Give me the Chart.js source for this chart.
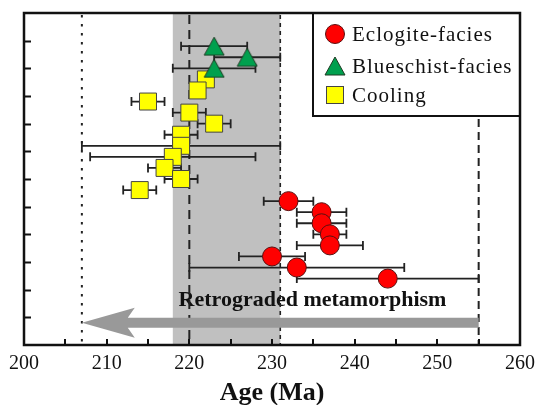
<!DOCTYPE html>
<html>
<head>
<meta charset="utf-8">
<script src="https://cdn.jsdelivr.net/npm/chart.js@4.4.1/dist/chart.umd.min.js"></script>
<style>
  html, body { margin: 0; padding: 0; background: #fff; }
</style>
</head>
<body>
<canvas id="myChart" width="542" height="405"></canvas>
<script>
// ages (Ma), 1-sigma errors and stacking position of each sample
const eclogiteAge = [232, 236, 236, 237, 237, 230, 233, 244];
const eclogiteErr = [3, 3, 3, 2, 4, 4, 13, 11];
const eclogiteY = [5.2, 4.8, 4.4, 4.0, 3.6, 3.2, 2.8, 2.4];

const blueschistAge = [223, 227, 223];
const blueschistErr = [4, 4, 5];
const blueschistY = [10.8, 10.4, 10.0];

const coolingAge = [222, 221, 215, 220, 223, 219, 219, 218, 217, 219, 214];
const coolingErr = [0, 0, 2, 2, 2, 2, 12, 10, 2, 2, 2];
const coolingY = [9.6, 9.2, 8.8, 8.4, 8.0, 7.6, 7.2, 6.8, 6.4, 6.0, 5.6];

const xTicks = [200, 210, 220, 230, 240, 250, 260];
const legendNames = ["Eclogite-facies", "Blueschist-facies", "Cooling"];

const bandRange = [218, 231];
const refLines = [207, 220, 231, 255];
const arrowFrom = 255, arrowTo = 207, arrowHeadEnd = 213.4, arrowY = 0.8;
const arrowLabel = "Retrograded metamorphism";
const labelAge = 234.9, labelY = 1.6;

const SERIF = '"Liberation Serif", "Times New Roman", serif';

function toPoints(ages, ys) {
  return ages.map((a, i) => ({ x: a, y: ys[i] }));
}

function triangleImg(w, h, fill, stroke) {
  const c = document.createElement("canvas");
  c.width = w + 2;
  c.height = h + 2;
  const g = c.getContext("2d");
  g.beginPath();
  g.moveTo(c.width / 2, 1);
  g.lineTo(w + 1, h + 1);
  g.lineTo(1, h + 1);
  g.closePath();
  g.fillStyle = fill;
  g.fill();
  g.strokeStyle = stroke;
  g.lineWidth = 1;
  g.stroke();
  return c;
}

const RED = "#ff0000", GREEN = "#00a04e", YELLOW = "#ffff00";
const tri = triangleImg(20, 18, GREEN, "#1d3a22");

const errorSets = [
  [eclogiteAge, eclogiteErr, eclogiteY],
  [blueschistAge, blueschistErr, blueschistY],
  [coolingAge, coolingErr, coolingY],
];

const decor = {
  id: "decor",
  beforeDatasetsDraw(chart) {
    const { ctx, chartArea: a, scales } = chart;
    const x = scales.x, y = scales.y;
    ctx.save();
    // grey age band
    const b0 = x.getPixelForValue(bandRange[0]);
    const b1 = x.getPixelForValue(bandRange[1]);
    ctx.fillStyle = "#c0c0c0";
    ctx.fillRect(b0, a.top, b1 - b0, a.bottom - a.top);

    // label above the arrow
    ctx.fillStyle = "#111";
    ctx.font = "bold 22px " + SERIF;
    ctx.textAlign = "center";
    ctx.textBaseline = "middle";
    ctx.fillText(arrowLabel, x.getPixelForValue(labelAge), y.getPixelForValue(labelY));

    // reference lines
    const dashes = [[2.5, 6.5], [9, 6], [4, 4], [8, 5]];
    const widths = [2, 2, 1.6, 2];
    refLines.forEach((v, i) => {
      const px = x.getPixelForValue(v);
      ctx.beginPath();
      ctx.setLineDash(dashes[i]);
      ctx.lineWidth = widths[i];
      ctx.strokeStyle = "#222";
      ctx.moveTo(px, a.top + 2);
      ctx.lineTo(px, a.bottom);
      ctx.stroke();
    });
    ctx.setLineDash([]);

    // arrow
    const xs = x.getPixelForValue(arrowFrom);
    const xt = x.getPixelForValue(arrowTo);
    const xh = x.getPixelForValue(arrowHeadEnd);
    const yc = y.getPixelForValue(arrowY);
    ctx.fillStyle = "#999999";
    ctx.beginPath();
    ctx.moveTo(xt, yc);
    ctx.lineTo(xh, yc - 15);
    ctx.lineTo(xh - 7, yc - 5);
    ctx.lineTo(xs, yc - 5);
    ctx.lineTo(xs, yc + 5);
    ctx.lineTo(xh - 7, yc + 5);
    ctx.lineTo(xh, yc + 15);
    ctx.closePath();
    ctx.fill();

    // error bars
    ctx.strokeStyle = "#222";
    ctx.lineWidth = 1.8;
    errorSets.forEach(([ages, errs, ys]) => {
      ages.forEach((age, i) => {
        if (!errs[i]) return;
        const l = x.getPixelForValue(age - errs[i]);
        const r = x.getPixelForValue(age + errs[i]);
        const py = y.getPixelForValue(ys[i]);
        ctx.beginPath();
        ctx.moveTo(l, py);
        ctx.lineTo(r, py);
        ctx.moveTo(l, py - 4.5);
        ctx.lineTo(l, py + 4.5);
        ctx.moveTo(r, py - 4.5);
        ctx.lineTo(r, py + 4.5);
        ctx.stroke();
      });
    });
    ctx.restore();
  },
  afterDraw(chart) {
    const { ctx, chartArea: a, scales } = chart;
    const x = scales.x, y = scales.y;
    ctx.save();
    // inward ticks
    ctx.strokeStyle = "#111";
    ctx.lineWidth = 2;
    ctx.beginPath();
    y.ticks.forEach((t) => {
      if (t.value <= 0 || t.value >= 12) return;
      const py = Math.round(y.getPixelForValue(t.value)) + 0.5;
      ctx.moveTo(a.left, py);
      ctx.lineTo(a.left + 7, py);
    });
    x.ticks.forEach((t) => {
      if (t.value <= 200 || t.value >= 260) return;
      const px = Math.round(x.getPixelForValue(t.value));
      ctx.moveTo(px, a.bottom);
      ctx.lineTo(px, a.bottom - 6);
    });
    ctx.stroke();

    // legend box
    const lx = a.right - 207, ly = a.top, lw = 207, lh = 103;
    ctx.fillStyle = "#fff";
    ctx.fillRect(lx, ly, lw, lh);
    ctx.lineWidth = 2;
    ctx.strokeStyle = "#111";
    ctx.strokeRect(lx, ly, lw, lh);

    const cx = lx + 22;
    const rows = [ly + 21, ly + 53, ly + 82];
    // circle
    ctx.beginPath();
    ctx.arc(cx, rows[0], 9.5, 0, Math.PI * 2);
    ctx.fillStyle = RED;
    ctx.fill();
    ctx.lineWidth = 1;
    ctx.strokeStyle = "#5a1010";
    ctx.stroke();
    // triangle
    ctx.drawImage(tri, cx - tri.width / 2, rows[1] - tri.height / 2);
    // square
    ctx.fillStyle = YELLOW;
    ctx.fillRect(cx - 8.5, rows[2] - 8.5, 17, 17);
    ctx.strokeStyle = "#444";
    ctx.strokeRect(cx - 8.5, rows[2] - 8.5, 17, 17);

    ctx.fillStyle = "#111";
    ctx.font = "21px " + SERIF;
    ctx.letterSpacing = "1px";
    ctx.textAlign = "left";
    ctx.textBaseline = "alphabetic";
    legendNames.forEach((n, i) => {
      ctx.fillText(n, lx + 39, rows[i] + 7);
    });
    ctx.letterSpacing = "0px";

    // frame
    ctx.lineWidth = 2.5;
    ctx.strokeStyle = "#111";
    ctx.strokeRect(a.left, a.top, a.right - a.left, a.bottom - a.top);
    ctx.restore();
  },
};

const ctx = document.getElementById("myChart").getContext("2d");
const chart = new Chart(ctx, {
  type: "scatter",
  data: {
    datasets: [
      {
        label: legendNames[0],
        data: toPoints(eclogiteAge, eclogiteY),
        pointStyle: "circle",
        pointRadius: 9.5,
        pointHoverRadius: 9.5,
        backgroundColor: RED,
        borderColor: "#5a1010",
        borderWidth: 1,
      },
      {
        label: legendNames[1],
        data: toPoints(blueschistAge, blueschistY),
        pointStyle: tri,
        pointRadius: 10,
      },
      {
        label: legendNames[2],
        data: toPoints(coolingAge, coolingY),
        pointStyle: "rect",
        pointRadius: 12,
        pointHoverRadius: 12,
        backgroundColor: YELLOW,
        borderColor: "#444",
        borderWidth: 1,
      },
    ],
  },
  options: {
    responsive: false,
    animation: false,
    events: [],
    layout: { padding: { left: 24, right: 19, top: 13, bottom: 0 } },
    plugins: {
      legend: { display: false },
      tooltip: { enabled: false },
    },
    scales: {
      x: {
        type: "linear",
        min: 200,
        max: 260,
        grid: { display: false, drawTicks: false },
        border: { display: false },
        afterFit: (s) => { s.height = 60; },
        afterBuildTicks: (s) => {
          s.ticks = [];
          for (let v = 200; v <= 260; v += 5) s.ticks.push({ value: v });
        },
        ticks: {
          autoSkip: false,
          maxRotation: 0,
          padding: 7,
          color: "#111",
          font: { family: SERIF, size: 20 },
          callback: (v) => (xTicks.includes(v) ? String(v) : ""),
        },
        title: {
          display: true,
          text: "Age (Ma)",
          color: "#111",
          padding: { top: 0, bottom: 0 },
          font: { family: SERIF, size: 26, weight: "bold", lineHeight: 0.93 },
        },
      },
      y: {
        type: "linear",
        min: 0,
        max: 12,
        grid: { display: false, drawTicks: false },
        border: { display: false },
        ticks: { display: false, stepSize: 1 },
        afterFit: (s) => { s.width = 0; },
      },
    },
  },
  plugins: [decor],
});
</script>
</body>
</html>
